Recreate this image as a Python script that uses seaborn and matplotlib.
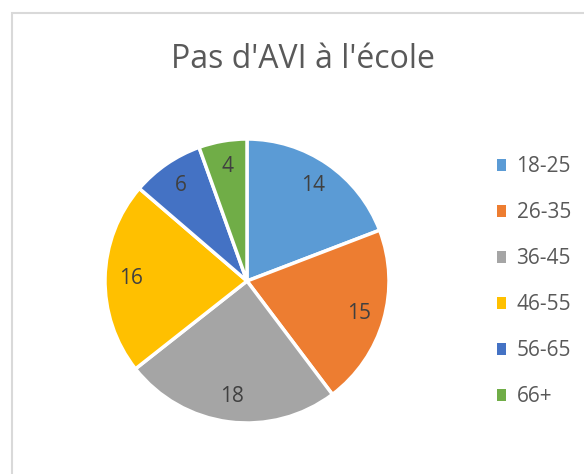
import matplotlib
matplotlib.use('Agg')
import matplotlib.pyplot as plt
import seaborn as sb
from matplotlib.patches import Rectangle, Patch

categories = ['18-25', '26-35', '36-45', '46-55', '56-65', '66+']
counts = [14, 15, 18, 16, 6, 4]
colors = ['#5B9BD5', '#ED7D31', '#A5A5A5', '#FFC000', '#4472C4', '#70AD47']
title = "Pas d'AVI à l'école"

sb.set_style('white')
plt.rcParams['font.family'] = ['Open Sans', 'DejaVu Sans']

W, H = 584, 474
fig = plt.figure(figsize=(W / 100, H / 100), dpi=100, facecolor='white')

# chart frame (cropped at right/bottom like the screenshot)
fig.patches.append(Rectangle((12 / W, -0.1), 1.2, (H - 13) / H + 0.1,
                             transform=fig.transFigure, fill=False,
                             edgecolor='#D9D9D9', linewidth=1.5))

cx, cy, r = 247, 281, 142
ax = fig.add_axes([(cx - r) / W, (H - cy - r) / H, 2 * r / W, 2 * r / H])
wedges, texts, autotexts = ax.pie(
    counts, colors=colors, startangle=90, counterclock=False,
    autopct=lambda p: f'{round(p * sum(counts) / 100)}', pctdistance=0.82,
    wedgeprops=dict(edgecolor='white', linewidth=2.5),
    textprops=dict(color='#404040', fontsize=15))
ax.set_xlim(-1, 1)
ax.set_ylim(-1, 1)
ax.set_aspect('auto')
ax.axis('off')

fig.text(303 / W, 1 - 60 / H, title, ha='center', va='center',
         fontsize=23, color='#595959')

handles = [Patch(facecolor=c, edgecolor='none') for c in colors]
fig.legend(handles, categories, loc='center left',
           bbox_to_anchor=(478 / W, 1 - 282 / H), frameon=False,
           fontsize=15, labelcolor='#595959', handlelength=0.45,
           handleheight=0.45, handletextpad=0.5, labelspacing=1.2)

fig.savefig('out.png', dpi=100, facecolor='white')
